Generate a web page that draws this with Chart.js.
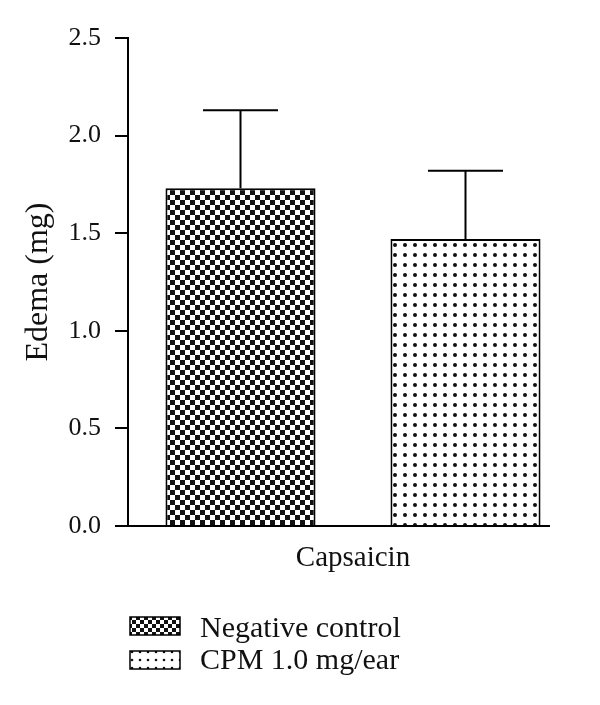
<!DOCTYPE html>
<html>
<head>
<meta charset="utf-8">
<script src="https://cdn.jsdelivr.net/npm/chart.js@4/dist/chart.umd.min.js"></script>
<style>
html, body { margin: 0; padding: 0; background: #fff; }
</style>
</head>
<body>
<canvas id="chart" width="600" height="705"></canvas>
<script>
var categories = ['Capsaicin'];
var seriesNames = ['Negative control', 'CPM 1.0 mg/ear'];
var negativeControl = [1.73];
var cpm = [1.47];
var negativeControlErr = [0.40];
var cpmErr = [0.35];
var yTicks = [0, 0.5, 1.0, 1.5, 2.0, 2.5];

var serif = '"Liberation Serif", "Times New Roman", serif';

function checkerPattern(cell) {
    var c = document.createElement('canvas');
    c.width = cell * 2; c.height = cell * 2;
    var g = c.getContext('2d');
    g.fillStyle = '#fff';
    g.fillRect(0, 0, c.width, c.height);
    g.fillStyle = '#111';
    g.fillRect(0, 0, cell, cell);
    g.fillRect(cell, cell, cell, cell);
    return g.createPattern(c, 'repeat');
}

function dotPattern(step, r) {
    var c = document.createElement('canvas');
    c.width = step; c.height = step;
    var g = c.getContext('2d');
    g.fillStyle = '#fff';
    g.fillRect(0, 0, step, step);
    g.fillStyle = '#111';
    g.beginPath();
    g.arc(step / 2, step / 2, r, 0, Math.PI * 2);
    g.fill();
    return g.createPattern(c, 'repeat');
}

var ctx = document.getElementById('chart').getContext('2d');
var checker = checkerPattern(5);
var dots = dotPattern(10, 2);

var errorBars = {
    id: 'errorBars',
    afterDatasetsDraw: function (chart) {
        var g = chart.ctx;
        var y = chart.scales.y;
        g.save();
        g.strokeStyle = '#000';
        g.lineWidth = 2;
        chart.data.datasets.forEach(function (ds, i) {
            chart.getDatasetMeta(i).data.forEach(function (bar, j) {
                var top = y.getPixelForValue(ds.data[j] + ds.errors[j]);
                var half = bar.width / 4;
                g.beginPath();
                g.moveTo(bar.x, bar.y);
                g.lineTo(bar.x, top);
                g.moveTo(bar.x - half, top);
                g.lineTo(bar.x + half, top);
                g.stroke();
            });
        });
        g.restore();
    }
};

var axisAndLegend = {
    id: 'axisAndLegend',
    afterDraw: function (chart) {
        var g = chart.ctx;
        var y0 = chart.scales.y.getPixelForValue(0);
        g.save();
        g.strokeStyle = '#000';
        g.lineWidth = 2;
        g.beginPath();
        g.moveTo(115, y0);
        g.lineTo(550, y0);
        g.stroke();

        var rows = [
            { fill: checkerPattern(4), top: 617, base: 637 },
            { fill: dotPattern(8, 1.3), top: 651, base: 669 }
        ];
        g.font = '30px ' + serif;
        g.textBaseline = 'alphabetic';
        rows.forEach(function (r, i) {
            g.fillStyle = r.fill;
            g.fillRect(130, r.top, 50, 18);
            g.lineWidth = 1.5;
            g.strokeRect(130, r.top, 50, 18);
            g.fillStyle = '#111';
            g.fillText(seriesNames[i], 200, r.base);
        });
        g.restore();
    }
};

new Chart(ctx, {
    type: 'bar',
    data: {
        labels: categories,
        datasets: [
            {
                label: seriesNames[0],
                data: negativeControl,
                errors: negativeControlErr,
                backgroundColor: checker,
                borderColor: '#000',
                borderWidth: 2
            },
            {
                label: seriesNames[1],
                data: cpm,
                errors: cpmErr,
                backgroundColor: dots,
                borderColor: '#000',
                borderWidth: 2
            }
        ]
    },
    options: {
        responsive: false,
        animation: false,
        categoryPercentage: 1.0,
        barPercentage: 0.667,
        layout: { padding: { top: 38, right: 22, bottom: 0, left: 0 } },
        plugins: {
            legend: { display: false },
            tooltip: { enabled: false }
        },
        scales: {
            x: {
                grid: { display: false, drawTicks: false },
                border: { display: false },
                ticks: {
                    color: '#111',
                    padding: 15,
                    font: { family: serif, size: 29 }
                },
                afterFit: function (scale) { scale.height = 179; }
            },
            y: {
                min: 0,
                max: 2.5,
                afterBuildTicks: function (scale) {
                    scale.ticks = yTicks.map(function (v) { return { value: v }; });
                },
                grid: {
                    drawOnChartArea: false,
                    color: '#000',
                    lineWidth: 2,
                    tickLength: 13
                },
                border: { color: '#000', width: 2 },
                ticks: {
                    color: '#111',
                    padding: 14,
                    font: { family: serif, size: 26 },
                    callback: function (v) { return Number(v).toFixed(1); }
                },
                title: {
                    display: true,
                    text: 'Edema (mg)',
                    color: '#111',
                    padding: { top: 19, bottom: 0 },
                    font: { family: serif, size: 32 }
                },
                afterFit: function (scale) { scale.width = 128; }
            }
        }
    },
    plugins: [errorBars, axisAndLegend]
});
</script>
</body>
</html>
